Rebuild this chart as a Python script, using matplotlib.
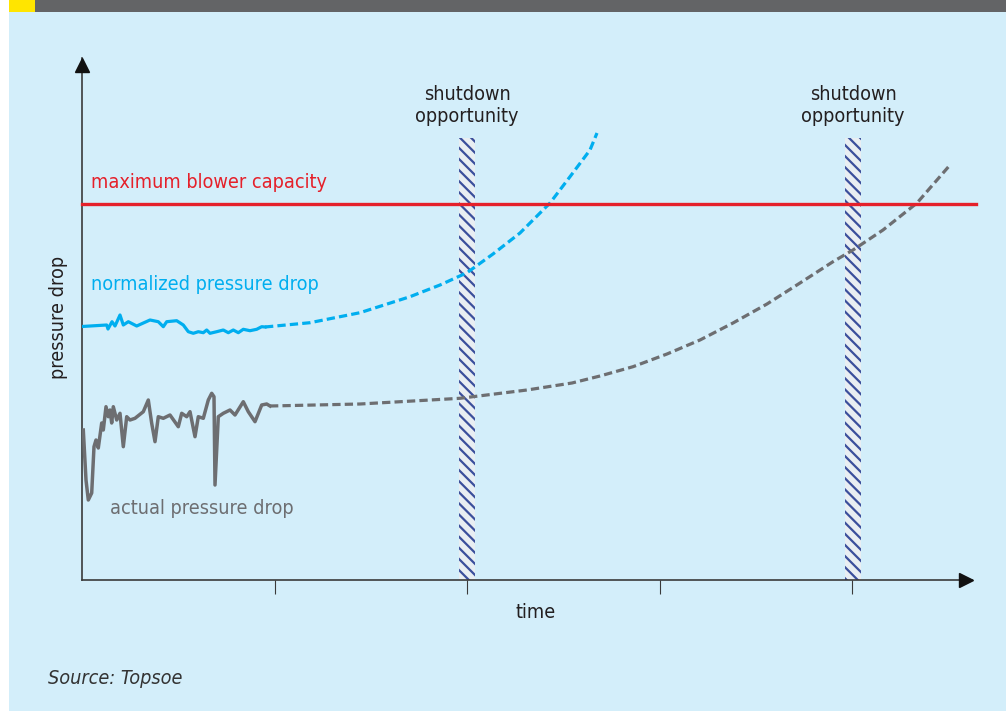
import matplotlib.pyplot as plt
from matplotlib.patches import Rectangle

# figure in pixels: 1006 x 711 at dpi 100
W, H = 1006, 711

# data (time axis: arbitrary units, pressure drop: arbitrary units)
norm_t = [0, 24.7, 26, 30, 33, 38, 41.3, 46.3, 54.7, 68, 76.3, 81.3, 84.7, 94.7,
          101.3, 106.3, 111.3, 116.3, 121.3, 124.7, 128, 134.7, 141.3, 146.3,
          151.3, 156.3, 161.3, 168, 174.7, 179.7, 183]
norm_p = [253.5, 255, 251, 258.3, 254, 265, 255, 258.3, 254, 260, 258.3, 253.3,
          258.3, 259.3, 255, 248.3, 246.7, 248.3, 247.3, 250, 246.7, 248.3, 250,
          247.3, 250, 247.3, 250.7, 249.3, 250.7, 253.3, 253]
# projected (dashed) part
norm_fc_t = [183, 228, 278, 328, 358, 385, 411, 438, 468, 488, 508, 515]
norm_fc_p = [253, 257.3, 267.3, 283.3, 295, 307.3, 326, 347, 377, 403.3, 430, 447]

act_t = [1.3, 4, 6.3, 9.7, 12, 14, 16.3, 19.7, 21.3, 24, 26.3, 28, 29.7, 31.3,
         34.7, 38, 41.3, 44.7, 48, 53, 61.3, 66.3, 69.7, 73, 76.3, 81.3, 88,
         96.3, 99.7, 104.7, 108, 113, 116.3, 121.3, 126.3, 129.7, 132, 133,
         136.3, 141.3, 148, 153, 161.3, 166.3, 173, 179.7, 184.7, 188]
act_p = [150, 100, 80, 87, 133.3, 140, 132, 157, 150, 173.3, 163.3, 170, 157,
         173.3, 160, 166.7, 133.3, 163.3, 160, 161.7, 168.3, 180, 156.7, 138.3,
         163.3, 161.7, 165, 153.3, 166.7, 163.3, 168.3, 143.3, 163.3, 161.7,
         180, 186.7, 183.3, 95, 163.3, 166.7, 170, 165, 178.3, 168.3, 158.3,
         175, 176, 174]
act_fc_t = [188, 278, 378, 445, 490, 518, 551, 585, 618, 651, 685, 718, 751, 771,
            801, 835, 868]
act_fc_p = [174, 176, 181.7, 190, 197, 204, 213.3, 226, 240, 257, 276, 297, 318.3,
            330, 350, 377, 415]

max_capacity = 376
shutdowns = [385, 771]
shutdown_width = 16
shutdown_top = 442
xticks = [193, 385, 578, 770]

BG = '#d3eefa'
BLUE = '#00aeef'
GREY = '#6d6e71'
RED = '#e5202a'
NAVY = '#3b4f9c'
INK = '#231f20'

plt.rcParams['font.family'] = ['DejaVu Sans']
plt.rcParams['font.stretch'] = 'condensed'
plt.rcParams['hatch.linewidth'] = 1.6
plt.rcParams['hatch.color'] = NAVY

fig = plt.figure(figsize=(W / 100, H / 100), dpi=100)
fig.patch.set_facecolor('white')

# panel background, header bar, yellow tag
fig.patches.append(Rectangle((9 / W, 0), 1 - 9 / W, 1, transform=fig.transFigure,
                             facecolor=BG, edgecolor='none', zorder=-3))
fig.patches.append(Rectangle((9 / W, 1 - 12 / H), 1 - 9 / W, 12 / H,
                             transform=fig.transFigure, facecolor='#636466',
                             edgecolor='none', zorder=-2))
fig.patches.append(Rectangle((9 / W, 1 - 12 / H), 26 / W, 12 / H,
                             transform=fig.transFigure, facecolor='#ffe500',
                             edgecolor='none', zorder=-1))

ax_l, ax_r, ax_top, ax_bot = 82, 972, 58, 580
ax = fig.add_axes([ax_l / W, 1 - ax_bot / H, (ax_r - ax_l) / W, (ax_bot - ax_top) / H])
ax.set_facecolor('none')
ax.set_xlim(0, ax_r - ax_l)
ax.set_ylim(0, ax_bot - ax_top)

for s in ['top', 'right']:
    ax.spines[s].set_visible(False)
for s in ['left', 'bottom']:
    ax.spines[s].set_color('#3a3a3a')
    ax.spines[s].set_linewidth(1.2)

ax.set_yticks([])
ax.set_xticks(xticks)
ax.set_xticklabels([])
ax.tick_params(axis='x', direction='out', length=10, width=0.8, colors='#3a3a3a')

# arrow heads
ax.plot([0], [522 - 6.5], marker='^', markersize=9.5, color='#111111',
        clip_on=False, zorder=6)
ax.plot([890 - 6], [0], marker='>', markersize=9.5, color='#111111',
        clip_on=False, zorder=6)

# shutdown bars
for c in shutdowns:
    ax.add_patch(Rectangle((c - shutdown_width / 2, 0), shutdown_width, shutdown_top,
                           facecolor='#e9eef2', edgecolor=NAVY, linewidth=0,
                           hatch='\\' * 3, zorder=2))

ax.plot([0, 894], [max_capacity, max_capacity], color=RED, lw=2.4,
        clip_on=False, zorder=4)

ax.plot(norm_t, norm_p, color=BLUE, lw=2.3, zorder=3)
ax.plot(norm_fc_t, norm_fc_p, color=BLUE, lw=2.3, ls=(0, (2.6, 1.3)), zorder=3)
ax.plot(act_t, act_p, color=GREY, lw=2.5, zorder=3)
ax.plot(act_fc_t, act_fc_p, color=GREY, lw=2.3, ls=(0, (2.6, 1.3)), zorder=3)

fs = 14.2
ax.text(9, 398, 'maximum blower capacity', color=RED, fontsize=fs, va='center')
ax.text(9, 295, 'normalized pressure drop', color=BLUE, fontsize=fs, va='center')
ax.text(28, 72, 'actual pressure drop', color=GREY, fontsize=fs, va='center')
for c in shutdowns:
    ax.text(c, 474.5, 'shutdown\nopportunity', color=INK, fontsize=fs,
            ha='center', va='center', linespacing=1.2)

fig.text(59 / W, 1 - 317 / H, 'pressure drop', color=INK, fontsize=fs,
         rotation=90, ha='center', va='center')
fig.text(536 / W, 1 - 612 / H, 'time', color=INK, fontsize=fs,
         ha='center', va='center')
fig.text(48 / W, 1 - 678 / H, 'Source: Topsoe', color='#333333', fontsize=fs,
         style='italic', ha='left', va='center')

fig.savefig('out.png', dpi=100, facecolor=fig.get_facecolor())
